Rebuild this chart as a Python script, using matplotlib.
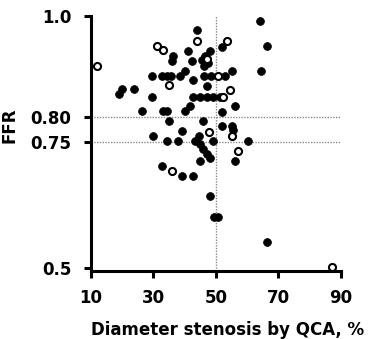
import matplotlib
matplotlib.use("Agg")
import matplotlib.pyplot as plt

plt.rcParams['font.family'] = ['DejaVu Sans']
plt.rcParams['font.weight'] = 'bold'

# lesions with FFR measured (filled) and the other group (open)
filled_x = [64.1, 66.2, 64.3,
            44.0, 52.1, 41.1, 48.1, 46.5, 36.3, 35.8, 42.2, 45.4, 47.5, 46.2,
            29.4, 32.6, 34.5, 35.6, 38.5, 40.1, 46.2, 48.3, 52.9, 55.2,
            42.7, 47.0, 19.8, 19.1, 23.9, 29.4,
            42.7, 45.0, 47.0, 49.1, 51.3,
            51.8, 56.1, 26.2, 33.1, 34.2, 40.1, 41.7,
            35.1, 45.9, 52.1, 55.0, 55.5,
            29.9, 34.2, 37.9, 39.0, 43.3, 44.7, 49.1, 44.9, 45.9, 47.0, 48.1,
            44.9, 60.3, 56.1,
            32.9, 39.0, 42.7, 48.1, 49.4, 50.6, 66.2]
filled_y = [0.990, 0.941, 0.891,
            0.972, 0.939, 0.931, 0.930, 0.921, 0.921, 0.910, 0.910, 0.913, 0.906, 0.901,
            0.881, 0.881, 0.881, 0.881, 0.881, 0.890, 0.881, 0.881, 0.881, 0.891,
            0.872, 0.860, 0.854, 0.846, 0.854, 0.840,
            0.840, 0.840, 0.840, 0.840, 0.840,
            0.810, 0.821, 0.811, 0.811, 0.811, 0.811, 0.821,
            0.791, 0.791, 0.782, 0.782, 0.773,
            0.761, 0.751, 0.751, 0.771, 0.751, 0.761, 0.751, 0.745, 0.735, 0.725, 0.719,
            0.712, 0.752, 0.712,
            0.702, 0.682, 0.682, 0.642, 0.600, 0.600, 0.552]

open_x = [11.8, 44.0, 31.0, 33.1, 53.4, 47.0, 35.1, 50.6, 54.5, 52.3,
          47.9, 55.0, 57.1, 35.8, 87.2]
open_y = [0.901, 0.951, 0.941, 0.932, 0.951, 0.915, 0.862, 0.881, 0.852, 0.840,
          0.770, 0.761, 0.732, 0.692, 0.501]

y_ticks = [0.5, 0.75, 0.80, 1.0]
y_ticklabels = ['0.5', '0.75', '0.80', '1.0']
x_ticks = [10, 30, 50, 70, 90]

fig = plt.figure(figsize=(3.71, 3.39), dpi=100)
ax = fig.add_axes([0.245, 0.201, 0.674, 0.752])

# cut-off lines
ax.axhline(0.80, color='#8a8a8a', lw=1.0, ls=(0, (1, 1)), zorder=1)
ax.axhline(0.75, color='#8a8a8a', lw=1.0, ls=(0, (1, 1)), zorder=1)
ax.axvline(50, color='#8a8a8a', lw=1.0, ls=(0, (1, 1)), zorder=1)

ax.scatter(filled_x, filled_y, s=32, c='black', edgecolors='black', linewidths=0.5, zorder=3, clip_on=False)
ax.scatter(open_x, open_y, s=26, facecolors='white', edgecolors='black', linewidths=1.5, zorder=3, clip_on=False)

ax.set_xlim(10, 90)
ax.set_ylim(0.494, 1.0)
ax.set_xticks(x_ticks)
ax.set_yticks(y_ticks)
ax.set_yticklabels(y_ticklabels)

for s in ['top', 'right']:
    ax.spines[s].set_visible(False)
for s in ['left', 'bottom']:
    ax.spines[s].set_linewidth(2.2)
ax.tick_params(width=2.2, length=5, labelsize=12, direction='out')
ax.tick_params(axis='y', pad=9)
ax.tick_params(axis='x', pad=8)

ax.set_ylabel('FFR', fontsize=12, fontweight='bold')
ax.yaxis.set_label_coords(-0.29, 0.57)
ax.set_xlabel('Diameter stenosis by QCA, %', fontsize=12, fontweight='bold')
ax.xaxis.set_label_coords(0.545, -0.195)

fig.savefig('out.png', dpi=100)
